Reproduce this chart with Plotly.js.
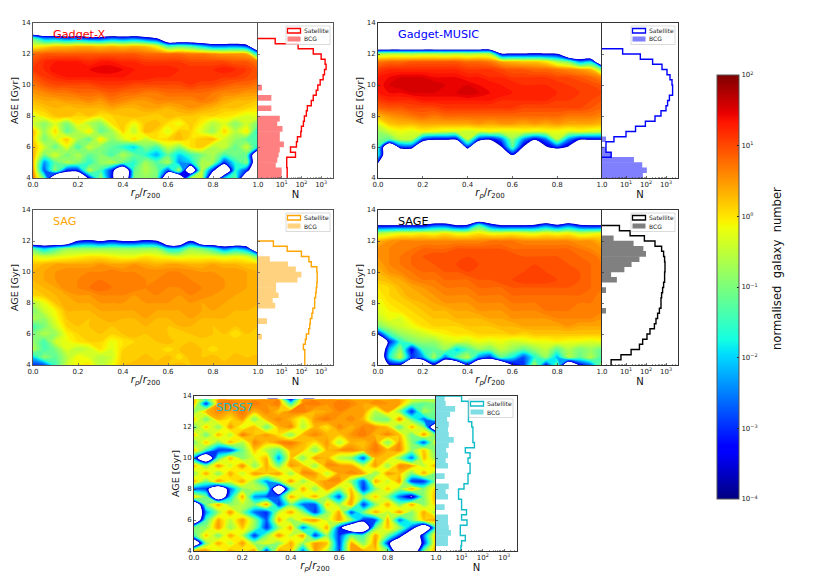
<!DOCTYPE html>
<html><head><meta charset="utf-8">
<script src="https://cdn.plot.ly/plotly-3.0.1.min.js"></script>
<style>html,body{margin:0;padding:0;background:#fff}#c{width:830px;height:581px}</style>
</head><body><div id="c"></div>
<script>
const E=-60; // no galaxies
const rGrid=[0,.05,.1,.15,.2,.25,.3,.35,.4,.45,.5,.55,.6,.65,.7,.75,.8,.85,.9,.95,1];
const ageGrid=[14,13.5,13,12.5,12,11.5,11,10.5,10,9.5,9,8.5,8,7.5,7,6.5,6,5.5,5,4.5,4];
const ageGridSdss=[14,13.85,13.75,13.5,13,12.5,12,11.5,11,10.5,10,9.5,9,8.5,8,7.5,7,6.5,6,5.5,5,4.5,4];
const ageBins=[4.17,4.5,4.83,5.17,5.5,5.83,6.17,6.5,6.83,7.17,7.5,7.83,8.17,8.5,8.83,9.17,9.5,9.83,10.17,10.5,10.83,11.17,11.5,11.83,12.17,12.5,12.83,13.17,13.5,13.83];

// log10(normalised galaxy number) x 10, rows from the top age down to age 4
const gridGadgetX=[
[E,E,E,E,E,E,E,E,E,E,E,E,E,E,E,E,E,E,E,E,E],
[E,E,E,E,E,E,E,E,E,E,E,E,E,E,E,E,E,E,E,E,E],
[-12,-24,-24,-28,-26,-30,-30,-26,-28,-26,-30,-35,E,E,E,E,E,E,E,E,E],
[-2,0,2,2,3,3,2,3,2,3,2,-2,-14,-12,-14,-20,-26,-26,-25,-30,E],
[8,9,9,9,9,9,9,9,9,9,8,8,8,8,7,7,6,5,5,4,-20],
[10,12,13,13,13,12,13,13,12,12,11,11,11,11,10,10,10,10,9,9,7],
[11,12,14,14,14,14,15,15,14,13,13,13,13,12,12,12,12,13,12,11,9],
[9,11,12,13,13,13,13,13,13,13,13,12,12,12,12,12,12,11,11,10,9],
[7,9,10,10,10,10,11,11,11,10,10,10,10,10,11,10,10,9,8,8,7],
[5,6,7,7,8,8,8,9,8,8,7,7,8,8,8,8,7,6,6,5,5],
[3,4,4,5,5,6,5,7,6,5,5,6,6,6,6,7,6,4,3,3,2],
[1,2,3,2,3,3,3,4,3,3,4,4,3,4,5,4,3,2,2,1,0],
[-3,0,2,3,1,2,0,1,2,3,2,1,3,2,2,1,1,0,-1,-3,-2],
[-4,-9,-3,-10,-1,-6,-9,0,2,-2,2,3,0,-2,2,-1,-6,-3,-9,-4,-10],
[3,-8,1,-12,-6,0,-12,-7,1,-5,3,1,-3,2,1,-3,-8,1,-6,0,-18],
[2,-10,-4,2,-7,-12,0,-9,-4,1,-5,0,1,3,0,2,3,-4,-8,-12,-14],
[3,-4,-12,-2,-14,-4,-9,-12,-16,-20,-10,-14,-4,-9,0,2,-6,-4,-12,-4,-18],
[4,-10,-3,-11,-6,-12,-9,-14,-6,-12,-16,-22,-12,-20,-14,-10,-6,-14,-10,-12,E],
[4,-24,-12,-6,-9,-16,-8,-5,-11,-16,-7,-13,-6,-24,-20,-6,-7,-30,-16,-9,E],
[6,-28,-8,-30,-30,-5,-14,-30,E,-12,-6,-10,-28,-6,E,-4,-32,E,-16,-30,E],
[7,-12,E,E,E,-32,-8,-32,E,-10,-8,-10,E,E,-7,-4,E,-20,-12,E,E]];

const gridMusic=[
[E,E,E,E,E,E,E,E,E,E,E,E,E,E,E,E,E,E,E,E,E],
[E,E,E,E,E,E,E,E,E,E,E,E,E,E,E,E,E,E,E,E,E],
[E,E,E,E,E,E,E,E,E,E,E,E,E,E,E,E,E,E,E,E,E],
[E,E,E,E,E,E,E,E,E,E,E,E,E,E,E,E,E,E,E,E,E],
[-6,-5,-5,-6,-5,-5,-6,-5,-6,-5,-6,-34,-34,-34,-33,-34,-35,E,E,E,E],
[7,8,8,9,9,9,9,9,8,8,7,4,3,2,2,0,-6,-10,-24,-20,E],
[11,12,12,12,12,12,12,12,11,11,11,10,9,9,8,8,7,6,5,3,-10],
[13,14,15,15,15,14,14,14,13,13,12,12,11,11,11,11,10,10,9,8,6],
[13,15,16,16,16,16,15,15,15,14,14,13,13,12,12,12,12,11,11,10,9],
[13,14,14,15,15,15,15,15,16,15,14,14,13,13,13,13,12,12,11,11,10],
[11,12,12,12,13,13,13,13,13,13,13,12,12,12,12,12,11,11,11,10,9],
[8,9,9,10,10,10,11,11,11,11,11,11,11,10,10,10,10,10,10,9,8],
[3,5,6,7,8,7,8,8,8,8,8,8,8,8,8,8,8,7,7,7,6],
[-3,2,3,3,4,4,4,4,4,5,4,5,5,4,5,4,5,4,4,4,3],
[-8,-4,-2,-3,-1,-2,-3,-3,-4,-3,-2,-3,-3,-2,-3,-2,-2,-3,-2,-3,-4],
[-10,-12,-5,-5,-28,-34,-34,-34,-5,-30,-34,-26,-8,-24,-34,-26,-5,-24,-34,-34,-34],
[-14,E,-30,-30,E,E,E,E,-30,E,E,-37,-12,-37,E,-37,-30,-37,E,E,E],
[-16,E,E,E,E,E,E,E,E,E,E,E,-34,E,E,E,E,E,E,E,E],
[-34,E,E,E,E,E,E,E,E,E,E,E,E,E,E,E,E,E,E,E,E],
[E,E,E,E,E,E,E,E,E,E,E,E,E,E,E,E,E,E,E,E,E],
[E,E,E,E,E,E,E,E,E,E,E,E,E,E,E,E,E,E,E,E,E]];

const gridSag=[
[E,E,E,E,E,E,E,E,E,E,E,E,E,E,E,E,E,E,E,E,E],
[E,E,E,E,E,E,E,E,E,E,E,E,E,E,E,E,E,E,E,E,E],
[E,E,E,E,E,E,E,E,E,E,E,E,E,E,E,E,E,E,E,E,E],
[E,E,E,E,E,E,E,E,E,E,E,E,E,E,E,E,E,E,E,E,E],
[E,E,E,E,-35,-32,-36,-32,-36,-36,-32,-35,E,E,-35,E,E,E,E,E,E],
[-12,-20,-14,-8,-8,-8,-8,-8,-8,-8,-8,-8,-18,-18,-8,-10,-16,-26,-20,-26,E],
[-2,-4,-3,-2,-1,0,0,-1,-2,-2,0,-1,-2,-3,-2,-2,-2,-3,-2,-3,-12],
[2,3,4,4,4,4,5,4,4,5,4,3,4,4,3,3,4,3,3,2,2],
[3,4,5,6,6,6,6,7,6,6,6,6,6,6,6,5,5,5,5,4,3],
[3,4,5,6,6,7,7,7,7,7,6,6,7,7,6,6,6,5,5,4,3],
[2,3,4,6,6,7,8,7,7,7,6,7,6,6,7,6,6,5,5,4,4],
[1,2,3,4,5,5,6,6,6,5,6,6,6,5,6,6,5,5,4,4,3],
[-6,-2,2,4,4,4,5,5,5,5,5,5,5,5,5,4,5,4,4,4,3],
[-10,-4,-1,3,3,3,4,4,4,4,5,4,4,4,5,4,4,4,3,3,3],
[-6,-8,-2,2,3,2,3,4,3,3,4,3,3,4,4,3,3,3,3,2,3],
[-14,-10,-4,1,2,2,3,2,3,3,3,3,2,3,3,3,2,3,2,3,2],
[-10,-6,-8,-1,1,2,2,1,2,3,2,3,2,1,2,3,2,2,0,2,2],
[-8,-14,-4,-2,0,1,1,-2,0,1,2,2,3,1,2,1,2,1,2,1,2],
[-6,-14,-10,-3,-6,-4,0,-3,1,2,1,2,0,2,3,2,0,2,1,2,1],
[-20,-8,-12,-6,-1,-3,-6,-4,2,1,3,1,3,0,3,2,3,1,3,2,3],
[-30,-28,-14,-4,-1,0,-6,-2,2,3,2,3,2,3,2,3,2,3,2,3,3]];

const gridSage=[
[E,E,E,E,E,E,E,E,E,E,E,E,E,E,E,E,E,E,E,E,E],
[E,E,E,E,E,E,E,E,E,E,E,E,E,E,E,E,E,E,E,E,E],
[-35,-35,-35,-35,-35,-28,-28,-35,-33,-14,-28,-35,-35,-35,-33,-26,-33,-26,-33,-35,-35],
[-6,-4,-2,-2,-1,-2,0,-2,-2,0,-2,-2,-1,-2,-3,-1,-2,-1,-4,-3,-1],
[3,5,6,6,6,6,6,6,6,6,7,7,7,6,6,6,6,6,5,5,3],
[5,6,7,7,8,8,8,9,9,9,9,9,8,8,8,8,8,8,7,6,5],
[5,6,7,8,9,10,10,10,10,10,10,10,10,9,9,9,9,9,8,8,6],
[4,6,7,8,9,9,10,10,11,10,10,10,10,10,10,10,10,9,9,8,7],
[3,5,6,7,8,8,9,9,10,10,10,10,10,10,11,10,10,10,9,8,7],
[2,3,4,6,7,7,8,8,8,9,9,10,10,11,11,11,10,10,9,8,7],
[0,1,3,4,5,6,7,7,7,8,8,8,9,9,9,9,9,9,9,8,7],
[-1,1,2,4,4,5,6,6,6,7,7,7,8,8,8,8,8,8,8,8,6],
[-2,0,1,2,3,4,5,5,5,6,6,6,7,7,7,8,8,8,7,7,6],
[-3,-1,0,1,2,3,3,4,4,5,5,5,6,6,6,7,7,7,7,7,6],
[-5,-2,-3,0,1,2,2,3,3,3,4,4,5,5,5,5,6,6,6,6,5],
[-10,-6,-4,-2,0,1,1,1,2,2,2,3,3,4,4,4,4,5,4,4,4],
[-34,-14,-8,-6,-4,-2,-1,0,0,1,1,1,2,1,2,2,2,2,2,2,2],
[E,-32,-16,-10,-8,-8,-4,-3,-4,-2,-3,-2,-4,-3,-2,-2,-1,-2,-2,-3,-2],
[E,-22,-8,-34,-14,-12,-8,-20,-14,-8,-10,-5,-8,-12,-8,-5,-12,-6,-10,-8,-12],
[E,-18,-4,-30,-24,-6,-26,-12,-5,-24,-30,-12,-18,-28,-16,-8,-22,-6,-12,-6,-14],
[E,-36,-36,E,E,-36,E,E,-34,E,E,E,-36,-30,-6,-32,-10,E,-34,-26,-6]];

const gridSdss=[
[E,E,E,E,E,E,E,E,E,E,E,E,E,E,E,E,E,E,E,E,E],
[E,E,E,E,E,E,E,E,E,E,E,E,E,E,E,E,E,E,E,E,E],
[3,-14,5,6,6,6,5,6,-30,6,6,5,6,5,5,5,5,4,-3,-5,-4],
[3,-30,6,7,5,7,5,7,-14,6,7,5,7,6,4,6,5,4,-9,-12,-10],
[-9,3,6,4,7,3,6,2,6,7,3,4,6,4,5,-6,4,-9,-30,-6,-11],
[2,-11,3,0,5,-9,3,6,3,-3,5,7,4,6,3,-9,-11,6,-12,-26,-11],
[-12,2,-9,5,-3,3,-11,3,6,-6,3,0,6,3,6,5,2,-12,3,-9,E],
[2,-11,3,-6,7,2,5,0,-9,3,6,3,2,5,7,3,6,2,-11,5,-12],
[-11,2,-9,3,-6,6,2,6,7,3,0,5,-6,3,2,6,-9,5,-9,-28,0],
[3,-14,-30,-30,-11,2,-6,-12,3,2,-9,3,5,6,3,7,3,6,-9,2,-12],
[-26,E,-14,3,-9,-3,3,-24,2,-9,5,3,-6,-9,-28,3,2,-9,-26,3,-9],
[4,-10,5,-5,6,-9,4,-10,5,2,-8,6,5,4,-5,5,-8,6,4,-5,4],
[-9,4,-9,4,-5,5,2,5,-8,6,5,-5,4,6,4,-9,5,2,-10,4,-10],
[4,-10,5,-2,4,-8,-24,-9,5,-8,2,5,6,-9,-28,4,-5,5,-30,-30,-9],
[-28,-30,E,-26,-9,-5,-10,E,-14,4,-9,4,-8,2,-30,-9,2,-8,4,-9,2],
[2,-10,E,-20,4,-24,-28,-26,4,-5,4,-9,-28,4,-9,2,-9,-26,-38,-9,4],
[E,-10,4,-9,-5,-10,5,-30,-10,-26,-28,2,-8,5,-30,-9,4,-10,4,-9,2],
[E,-24,-8,5,-9,-26,-30,-5,4,-8,-30,-8,4,-28,-10,4,-5,5,-9,4,-8],
[E,-14,4,-5,5,-8,-28,4,-9,2,5,-5,5,-9,-30,-28,4,-26,-10,2,5],
[-10,-8,5,-8,2,-9,-30,-8,4,-26,-9,4,-30,E,E,-10,2,-8,-28,E,-14],
[-14,2,-10,4,-5,-30,-9,5,-5,5,-30,-8,-30,-10,-14,4,-10,-28,E,-26,4],
[E,-9,4,-5,5,-8,-2,-9,4,-8,5,2,-30,4,-9,5,-30,E,E,-30,4],
[4,5,-5,4,-2,5,-30,5,2,-26,5,-5,-28,5,4,2,-9,E,E,-10,5]];

// histogram counts per age bin; 0.5 = empty bin (below the axis)
const satGadgetX=[19,19,18,18,50,28,56,63,93,100,126,141,178,200,316,398,562,676,891,1259,1479,1778,1585,1000,398,68,4.7,.5,.5,.5];
const bcgGadgetX=[10,10,5,6,7,8,13,8,8,11,6,8,null,3,null,3,null,1,null,null,null,null,null,null,null,null,null,null,null,null];
const satMusic=[.5,.5,.5,.5,1.8,1,1,2.5,10,30,93,282,562,1000,1202,1479,2138,2138,1995,1585,1122,631,214,52,6.8,.5,.5,.5,.5,.5];
const bcgMusic=[70,110,65,25,2,1,null,1,null,null,null,null,null,null,null,null,null,null,null,null,null,null,null,null,null,null,null,null,null,null];
const satSag=[148,148,148,126,158,178,234,263,282,339,380,468,468,525,562,603,631,631,603,316,240,100,19,3.8,.5,.5,.5,.5,.5,.5];
const bcgSag=[null,null,null,null,null,1,null,null,1.8,null,null,4.7,3.5,7,5.2,5.2,63,100,52,21,2.5,null,null,null,null,null,null,null,null,null];
const satSage=[1.8,5.6,18,47,68,112,158,263,316,380,468,562,562,603,676,759,851,851,891,891,851,759,603,282,83,16,4.7,.5,.5,.5];
const bcgSage=[null,null,null,null,null,null,null,null,null,null,1,null,null,null,1,null,3.5,1.8,8.3,19,47,100,74,24,2.4,null,null,null,null,null];
const satSdss=[9.3,10,15,8.7,8.7,18,10,17,10,10,7.2,7.2,13,20,20,25,25,20,25,15,40,34,34,34,30,21,21,21,21,10];
const bcgSdss=[null,2.3,2.3,3.2,2.5,2.3,2.3,null,1.6,null,2.3,1.8,2.5,null,1.6,null,2.3,1.8,2.3,1.9,2.5,4.3,2.5,2.3,2.5,2.1,2.9,5,1.8,1.6];

const tickR=[0,.2,.4,.6,.8,1], tickRText=['0.0','0.2','0.4','0.6','0.8','1.0'];
const tickAge=[4,6,8,10,12,14];
const cbVals=[-4,-3,-2,-1,0,1,2];
const cbText=['10<sup>−4</sup>','10<sup>−3</sup>','10<sup>−2</sup>','10<sup>−1</sup>','10<sup>0</sup>','10<sup>1</sup>','10<sup>2</sup>'];
const minorN=[1,2,3,4,5,6,7,8,9,20,30,40,50,60,70,80,90,200,300,400,500,600,700,800,900,2000,3000];

const W=830,H=581,FONT='DejaVu Sans, sans-serif';
const px=x=>x/W, py=y=>1-y/H;

const panels=[
 {name:'Gadget-X',grid:gridGadgetX,ages:ageGrid,sat:satGadgetX,bcg:bcgGadgetX,col:'#ff0000',fill:'rgba(255,0,0,.5)',solid:'#ff8080',l:33,m:258,r:333,t:23,b:178,axc:'#555',lx:53},
 {name:'Gadget-MUSIC',grid:gridMusic,ages:ageGrid,sat:satMusic,bcg:bcgMusic,col:'#0000ff',fill:'rgba(0,0,255,.5)',solid:'#8080ff',l:378,m:602,r:678,t:23,b:178,axc:'#333',lx:398},
 {name:'SAG',grid:gridSag,ages:ageGrid,sat:satSag,bcg:bcgSag,col:'#ffa500',fill:'rgba(255,165,0,.5)',solid:'#ffd280',l:33,m:258,r:333,t:210,b:365,axc:'#555',lx:53},
 {name:'SAGE',grid:gridSage,ages:ageGrid,sat:satSage,bcg:bcgSage,col:'#000000',fill:'rgba(0,0,0,.5)',solid:'#808080',l:378,m:602,r:678,t:210,b:365,axc:'#333',lx:398},
 {name:'SDSS7',grid:gridSdss,ages:ageGridSdss,sat:satSdss,bcg:bcgSdss,col:'#10bcc8',fill:'rgba(0,190,200,.5)',solid:'#80dfe4',l:194,m:436,r:517,t:396,b:551,axc:'#333',lx:216}
];

// matplotlib jet
const jet=[[0,'#000080'],[.11,'#0000ff'],[.125,'#0000ff'],[.34,'#00dbff'],[.35,'#00e5f7'],[.375,'#14ffe2'],[.64,'#eeff08'],[.65,'#f7f500'],[.66,'#ffec00'],[.89,'#ff1300'],[.91,'#e80000'],[1,'#800000']];
// same colours on plotly's contour-fill domain (z = f*5.7-3.65); white under the lowest drawn level
const keep=jet.filter(([j])=>j>=.11);
const colorscale=[[0,'#ffffff'],[.008,'#ffffff'],[.0088,'#00009c']].concat(keep.map(([j,c])=>[(6*j-.35)/5.7,c]),[[1,'#800000']]);

const traces=[],annotations=[],shapes=[],layout={};
const tfont={family:FONT,size:7,color:'#222'};
panels.forEach((p,i)=>{
  const a=2*i+1,b=2*i+2;
  layout['xaxis'+a]={domain:[px(p.l),px(p.m)],range:[0,1],anchor:'y'+a,tickvals:tickR,ticktext:tickRText,ticks:'inside',ticklen:2,tickwidth:.7,tickcolor:p.axc,showline:true,mirror:true,linecolor:p.axc,linewidth:1,showgrid:false,zeroline:false,tickfont:tfont,tickangle:0,
    title:{text:'<i>r</i><sub><i>p</i></sub>/<i>r</i><sub>200</sub>',font:{family:FONT,size:10,color:'#111'},standoff:0}};
  layout['yaxis'+a]={domain:[py(p.b),py(p.t)],range:[4,14],anchor:'x'+a,tickvals:tickAge,ticks:'inside',ticklen:2,tickwidth:.7,tickcolor:p.axc,showline:true,mirror:false,linecolor:p.axc,linewidth:1,showgrid:false,zeroline:false,tickfont:tfont,
    title:{text:'AGE [Gyr]',font:{family:FONT,size:9.5,color:'#111'},standoff:1}};
  layout['xaxis'+b]={domain:[px(p.m),px(p.r)],type:'log',range:[-.2,3.6],anchor:'y'+b,tickvals:[10,100,1000],ticktext:['10<sup>1</sup>','10<sup>2</sup>','10<sup>3</sup>'],ticks:'inside',ticklen:2,tickwidth:.7,tickcolor:p.axc,minor:{ticks:'inside',ticklen:1,tickwidth:.5,tickcolor:p.axc,tickvals:minorN,showgrid:false},showline:true,mirror:true,linecolor:p.axc,linewidth:1,showgrid:false,zeroline:false,tickfont:tfont,tickangle:0,
    title:{text:'N',font:{family:FONT,size:10,color:'#111'},standoff:0}};
  layout['yaxis'+b]={domain:[py(p.b),py(p.t)],range:[4,14],anchor:'x'+b,tickvals:tickAge,showticklabels:false,ticks:'inside',ticklen:2,tickwidth:.7,tickcolor:p.axc,showline:true,mirror:true,linecolor:p.axc,linewidth:1,showgrid:false,zeroline:false};

  traces.push({type:'contour',x:rGrid,y:p.ages.slice().reverse(),z:p.grid.slice().reverse().map(r=>r.map(v=>v/10)),xaxis:'x'+a,yaxis:'y'+a,
    autocontour:false,contours:{start:-3.6,end:2,size:.1,coloring:'fill',showlines:false},line:{width:0,smoothing:.85},colorscale,showscale:false,name:p.name,hoverinfo:'skip'});
  traces.push({type:'bar',orientation:'h',x:p.bcg,y:ageBins,width:.36,xaxis:'x'+b,yaxis:'y'+b,marker:{color:p.solid,line:{width:0}},name:'BCG',showlegend:false,hoverinfo:'skip'});
  traces.push({type:'scatter',mode:'lines',x:[p.sat[0]].concat(p.sat,[.5]),y:[3.83].concat(ageBins,[14.17]),xaxis:'x'+b,yaxis:'y'+b,line:{shape:'vhv',color:p.col,width:1.4},name:'Satellite',showlegend:false,hoverinfo:'skip'});

  annotations.push({xref:'paper',yref:'paper',x:px(p.lx),y:py(p.t+11.5),xanchor:'left',yanchor:'middle',text:p.name,showarrow:false,font:{family:FONT,size:11.2,color:p.col},xshift:-2});
  // legend box
  const off=i===4?4:3, R=p.r-off, L=R-44, T=p.t+3;
  shapes.push({type:'rect',xref:'paper',yref:'paper',x0:px(L),x1:px(R),y0:py(T),y1:py(T+18.5),line:{color:'#ccc',width:.7},fillcolor:'rgba(255,255,255,.85)'});
  shapes.push({type:'rect',xref:'paper',yref:'paper',x0:px(L+1.5),x1:px(L+14.5),y0:py(T+2.5),y1:py(T+7),line:{color:p.col,width:1.3},fillcolor:'rgba(0,0,0,0)'});
  shapes.push({type:'rect',xref:'paper',yref:'paper',x0:px(L+1.5),x1:px(L+14.5),y0:py(T+10.5),y1:py(T+15.5),line:{width:0},fillcolor:p.fill});
  annotations.push({xref:'paper',yref:'paper',x:px(L+18),y:py(T+4.7),xanchor:'left',yanchor:'middle',text:'Satellite',showarrow:false,font:{family:FONT,size:6,color:'#222'},xshift:-2});
  annotations.push({xref:'paper',yref:'paper',x:px(L+18),y:py(T+13),xanchor:'left',yanchor:'middle',text:'BCG',showarrow:false,font:{family:FONT,size:6,color:'#222'},xshift:-2});
});
// colour bar, carried by a marker trace that lies outside the axis range
traces.push({type:'scatter',mode:'markers',x:[-5,-5],y:[0,0],xaxis:'x1',yaxis:'y1',hoverinfo:'skip',showlegend:false,
  marker:{size:1,opacity:0,color:[-4,2],cmin:-4,cmax:2,colorscale:jet,showscale:true,
    colorbar:{thickness:22,thicknessmode:'pixels',len:424,lenmode:'pixels',x:px(717),xanchor:'left',y:py(75),yanchor:'top',xpad:0,ypad:0,tickmode:'array',tickvals:cbVals,ticktext:cbText,ticks:'inside',ticklen:2,tickcolor:'#222',tickfont:{family:FONT,size:7,color:'#222'},outlinecolor:'#555',outlinewidth:1,borderwidth:0}}});
annotations.push({xref:'paper',yref:'paper',x:px(777),y:py(269),xanchor:'center',yanchor:'middle',text:'normalised  galaxy  number',textangle:-90,showarrow:false,font:{family:FONT,size:11.6,color:'#111'}});

Object.assign(layout,{width:W,height:H,margin:{l:0,r:0,t:0,b:0},paper_bgcolor:'#fff',plot_bgcolor:'#fff',showlegend:false,barmode:'overlay',font:{family:FONT},annotations,shapes});
Plotly.newPlot('c',traces,layout,{staticPlot:true,displayModeBar:false});
</script>
</body></html>
